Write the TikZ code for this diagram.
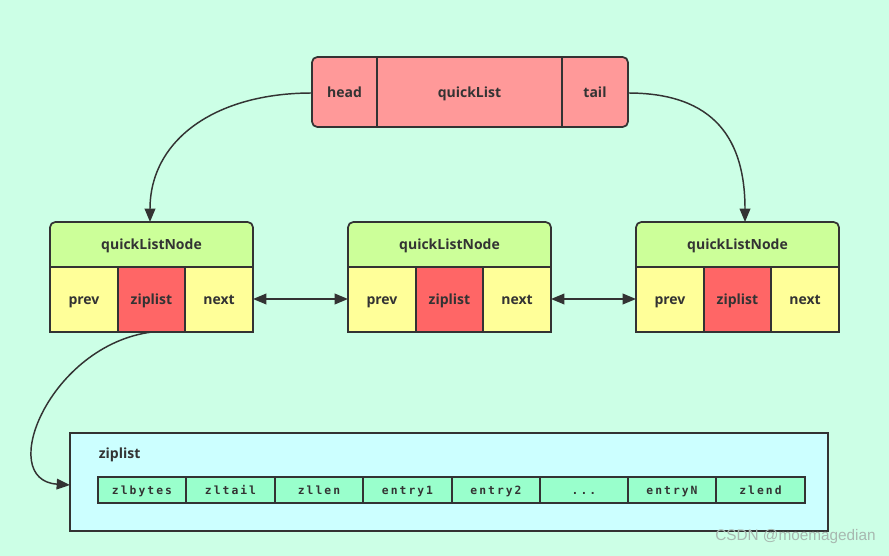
\documentclass[tikz,border=0pt]{standalone}
\usepackage{fontspec}
\setmainfont{Open Sans}
\newfontfamily\zlfont[LetterSpace=18]{DejaVu Sans Mono}
\newfontfamily\wmfont{Liberation Sans}
\usetikzlibrary{arrows.meta}
\definecolor{bg}{HTML}{CCFFE6}
\definecolor{ink}{HTML}{333333}
\definecolor{qlred}{HTML}{FF9999}
\definecolor{nodegreen}{HTML}{CCFF99}
\definecolor{cellyellow}{HTML}{FFFF99}
\definecolor{cellred}{HTML}{FF6666}
\definecolor{zlbg}{HTML}{CCFFFF}
\definecolor{zlcell}{HTML}{99FFCC}
\definecolor{wmcol}{HTML}{A8B8B0}
\def\mythreedots{...}
\tikzset{
  box/.style={draw=ink, line width=1.3pt, text=ink, font=\fontsize{10.5}{12}\selectfont\bfseries, inner sep=0pt, text height=1.55ex, text depth=0.35ex},
  zcell/.style={draw=ink, line width=1.3pt, fill=zlcell},
  ztext/.style={text=ink, font=\fontsize{8.5}{10}\selectfont\zlfont\bfseries, inner sep=0pt, text height=1.5ex, text depth=0.3ex},
  conn/.style={draw=ink, line width=1.1pt, -{Triangle[length=10pt,width=8pt]}},
  dconn/.style={draw=ink, line width=1.1pt, {Triangle[length=10pt,width=8pt]}-{Triangle[length=10pt,width=8pt]}}
}
\begin{document}
\begin{tikzpicture}[x=0.75pt,y=-0.75pt]
\fill[bg] (0,0) rectangle (889,556);
\useasboundingbox (0,0) rectangle (889,556);

% quickList header
\draw[box, fill=qlred, rounded corners=4pt] (312,57) rectangle (628,127);
\draw[ink, line width=1.3pt] (377,57) -- (377,127) (562,57) -- (562,127);
\node[box, draw=none] (head) at (344.5,93) {head};
\node[box, draw=none] (ql) at (469.5,93) {quickList};
\node[box, draw=none] (tail) at (595,93) {tail};
\coordinate (headL) at (312,93);
\coordinate (tailR) at (628,93);

% quickListNodes
\foreach \n/\x in {A/50, B/348, C/636} {
  \draw[box, fill=nodegreen, rounded corners=4pt] (\x,267) -- (\x,222) -- (\x+203,222) -- (\x+203,267);
  \draw[box, fill=cellyellow] (\x,267) rectangle (\x+68,332);
  \draw[box, fill=cellred] (\x+68,267) rectangle (\x+135,332);
  \draw[box, fill=cellyellow] (\x+135,267) rectangle (\x+203,332);
  \node[box, draw=none] (\n title) at (\x+101.5,245) {quickListNode};
  \node[box, draw=none] (\n prev) at (\x+34,300) {prev};
  \node[box, draw=none] (\n zip) at (\x+101.5,300) {ziplist};
  \node[box, draw=none] (\n next) at (\x+169,300) {next};
  \coordinate (\n L) at (\x,299);
  \coordinate (\n R) at (\x+203,299);
}
\coordinate (Atop) at (150,222);
\coordinate (Ctop) at (745,222);
\coordinate (Azipbot) at (152,332);

% ziplist container
\draw[draw=ink, line width=1.3pt, fill=zlbg] (70,433) rectangle (828,531);
\coordinate (zlL) at (70,485);
\node[box, draw=none, anchor=west] (zltitle) at (98,454) {ziplist};
\foreach \i/\a/\b/\t in {1/98/186/zlbytes, 2/186/275/zltail, 3/275/363/zllen, 4/363/452/entry1, 5/452/540/entry2, 6/540/628/\mythreedots, 7/628/716/entryN, 8/716/805/zlend} {
  \draw[zcell] (\a,477) rectangle (\b,503);
  \node[ztext] (z\i) at ({(\a+\b)/2},490) {\t};
}

% connectors
\draw[conn] (headL) .. controls (215,93) and (150,140) .. (Atop);
\draw[conn] (tailR) .. controls (715,93) and (745,140) .. (Ctop);
\draw[dconn] (AR) -- (BL);
\draw[dconn] (BR) -- (CL);
\draw[conn] (Azipbot) .. controls (50,345) and (-5,480) .. (zlL);

% watermark
\node[text=wmcol, font=\fontsize{11.5}{13}\selectfont\wmfont, anchor=east, inner sep=0pt] (wm) at (876,537) {CSDN @moemagedian};
\end{tikzpicture}
\end{document}
